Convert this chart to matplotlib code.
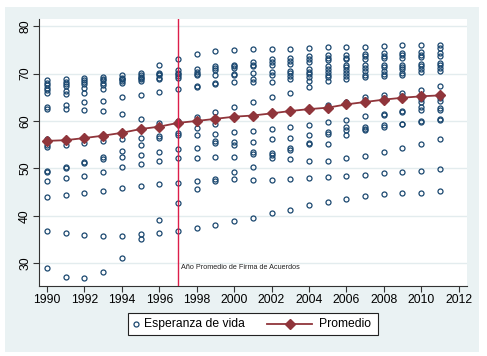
import matplotlib
matplotlib.use('Agg')
import matplotlib.pyplot as plt
from matplotlib.patches import Rectangle
from matplotlib.lines import Line2D

plt.rcParams['font.family'] = ['Liberation Sans', 'DejaVu Sans']

years = list(range(1990, 2012))

# esperanza de vida, one list per year
esperanza = [
    [68.6, 68.0, 67.6, 67.0, 66.5, 66.0, 63.0, 62.5, 56.2, 55.0, 54.5, 49.5, 49.2, 47.4, 43.9, 36.8, 29.1],
    [68.8, 68.3, 67.8, 67.4, 66.3, 65.7, 63.3, 62.6, 56.0, 55.0, 50.3, 50.1, 47.9, 44.4, 36.3, 27.1],
    [69.0, 68.6, 68.2, 67.7, 67.0, 65.9, 63.9, 62.3, 56.4, 55.4, 51.4, 51.1, 48.5, 44.8, 36.0, 26.8],
    [69.3, 68.9, 68.6, 68.1, 67.5, 66.8, 64.3, 62.1, 57.0, 55.7, 52.5, 52.0, 49.3, 45.3, 35.8, 28.2],
    [69.6, 69.1, 68.9, 68.8, 68.4, 68.1, 65.0, 61.5, 57.6, 56.1, 53.7, 52.4, 50.2, 45.8, 35.8, 31.2],
    [70.1, 69.6, 69.3, 69.1, 68.8, 68.5, 65.4, 60.5, 58.3, 56.4, 54.9, 52.9, 50.9, 46.3, 36.1, 35.1],
    [71.7, 70.1, 69.8, 69.6, 69.0, 68.9, 66.1, 59.6, 58.9, 56.9, 56.5, 53.5, 51.6, 46.7, 39.1, 36.4],
    [73.1, 70.8, 70.1, 69.8, 69.5, 69.0, 66.8, 60.0, 59.5, 57.5, 57.0, 54.0, 52.1, 47.0, 42.8, 36.9],
    [74.1, 70.9, 70.3, 69.9, 69.6, 67.3, 67.1, 60.9, 60.0, 58.5, 57.1, 54.3, 52.2, 47.3, 45.6, 37.5],
    [74.8, 71.5, 71.1, 70.8, 69.6, 68.0, 67.8, 61.9, 60.5, 59.4, 57.3, 55.8, 55.3, 52.5, 47.7, 47.4, 38.0],
    [75.0, 71.9, 71.6, 71.1, 70.0, 69.7, 68.2, 63.0, 60.9, 57.7, 55.5, 54.9, 52.5, 49.2, 47.7, 38.9],
    [75.1, 72.4, 71.9, 71.5, 70.1, 68.8, 68.3, 63.9, 61.2, 57.9, 55.6, 53.5, 53.0, 50.4, 47.6, 39.6],
    [75.1, 73.0, 72.4, 71.7, 70.4, 69.7, 68.2, 65.0, 61.6, 58.4, 56.1, 53.3, 52.8, 52.1, 47.6, 40.6],
    [75.1, 73.3, 72.6, 72.1, 70.5, 70.1, 69.5, 68.8, 66.0, 62.1, 58.7, 56.5, 54.3, 53.8, 51.9, 47.8, 41.3],
    [75.3, 73.6, 73.1, 72.5, 71.0, 70.4, 69.8, 69.2, 68.5, 67.1, 62.8, 59.2, 57.0, 55.3, 55.1, 51.6, 47.9, 42.2],
    [75.5, 73.9, 73.3, 72.9, 71.5, 70.9, 70.3, 69.7, 69.2, 68.5, 63.3, 59.8, 57.7, 57.2, 55.1, 51.6, 48.1, 42.9],
    [75.7, 73.9, 73.3, 73.0, 71.8, 71.3, 70.8, 70.1, 69.4, 68.8, 64.0, 60.3, 58.7, 58.2, 57.1, 52.1, 48.3, 43.5],
    [75.7, 74.1, 73.6, 73.1, 71.8, 71.2, 70.5, 69.7, 69.2, 65.0, 64.5, 61.0, 58.8, 58.4, 58.0, 52.7, 48.6, 44.2],
    [75.8, 74.3, 73.8, 73.2, 71.8, 71.3, 70.6, 69.9, 69.4, 65.5, 64.8, 61.4, 61.2, 59.1, 58.8, 53.5, 49.0, 44.6],
    [76.0, 74.4, 73.9, 73.3, 71.9, 71.4, 70.9, 70.2, 69.7, 66.0, 65.2, 62.2, 61.9, 59.4, 59.3, 54.3, 49.2, 44.9],
    [76.0, 74.6, 74.0, 73.4, 72.0, 71.5, 71.0, 70.4, 66.5, 64.6, 64.0, 62.9, 62.4, 60.0, 59.8, 55.2, 49.5, 44.9],
    [76.1, 75.4, 74.4, 73.7, 72.2, 71.7, 71.2, 70.5, 67.3, 64.9, 64.2, 62.7, 62.4, 60.5, 60.2, 56.1, 49.8, 45.3],
]

promedio = [55.8, 55.95, 56.4, 56.9, 57.5, 58.3, 58.8, 59.6, 60.0, 60.45, 60.9, 61.15,
            61.6, 62.1, 62.5, 62.8, 63.5, 64.0, 64.5, 64.9, 65.2, 65.4]

anio_firma = 1997
navy = '#1a476f'
maroon = '#90353b'
bg = '#eaf2f3'

W, H = 487, 356
fig = plt.figure(figsize=(W / 100, H / 100), dpi=100)
fig.patches.append(Rectangle((0.0103, 0.0112), 0.9733, 0.969, transform=fig.transFigure,
                             facecolor=bg, edgecolor='none', zorder=-10))
ax = fig.add_axes([0.0811, 0.1966, 0.8779, 0.75])
ax.set_facecolor('white')

for yr, vals in zip(years, esperanza):
    ax.plot([yr] * len(vals), vals, 'o', markersize=3.6, markerfacecolor='none',
            markeredgecolor=navy, markeredgewidth=0.9, linestyle='none', zorder=3)

ax.plot(years, promedio, color=maroon, linewidth=1.3, marker='D', markersize=5.2,
        markeredgecolor=maroon, markerfacecolor=maroon, zorder=4)

ax.axvline(anio_firma, color='#dc1e4a', linewidth=1.0, zorder=5)
ax.text(anio_firma + 0.16, 29.2, 'Año Promedio de Firma de Acuerdos', fontsize=5.2,
        va='center', ha='left', color='#222222')

ax.set_xlim(1989.6, 2012.45)
ax.set_ylim(25.2, 81.5)
ax.set_xticks(range(1990, 2013, 2))
ax.set_yticks(range(30, 81, 10))
ax.grid(axis='y', color='#e3ecee', linewidth=1.0, zorder=0)
ax.set_axisbelow(True)
for s in ['top', 'right']:
    ax.spines[s].set_visible(False)
for s in ['left', 'bottom']:
    ax.spines[s].set_color('#333333')
    ax.spines[s].set_linewidth(0.8)
ax.tick_params(axis='both', labelsize=8.7, length=4, width=0.8, color='#333333', pad=2)
for lab in ax.get_yticklabels():
    lab.set_rotation(90)
    lab.set_va('center')


# legend drawn by hand (Stata style box, compact keys)
def fx(px):
    return px / W


def fy(py):
    return 1 - py / H


fig.patches.append(Rectangle((fx(128), fy(335)), fx(378) - fx(128), fy(312.7) - fy(335),
                             transform=fig.transFigure, facecolor='white',
                             edgecolor='#222222', linewidth=0.8, zorder=5))
ly = fy(324)
fig.add_artist(Line2D([fx(136)], [ly], transform=fig.transFigure, marker='o', markersize=3.6,
                      markerfacecolor='none', markeredgecolor=navy, markeredgewidth=0.9,
                      linestyle='none', zorder=6))
fig.text(fx(144), ly, 'Esperanza de vida', fontsize=8.7, va='center', ha='left', zorder=6)
fig.add_artist(Line2D([fx(267), fx(312)], [ly, ly], transform=fig.transFigure, color=maroon,
                      linewidth=1.3, zorder=6))
fig.add_artist(Line2D([fx(290)], [ly], transform=fig.transFigure, marker='D', markersize=5.2,
                      color=maroon, linestyle='none', zorder=6))
fig.text(fx(319), ly, 'Promedio', fontsize=8.7, va='center', ha='left', zorder=6)

fig.savefig('out.png', dpi=100, facecolor='white')
